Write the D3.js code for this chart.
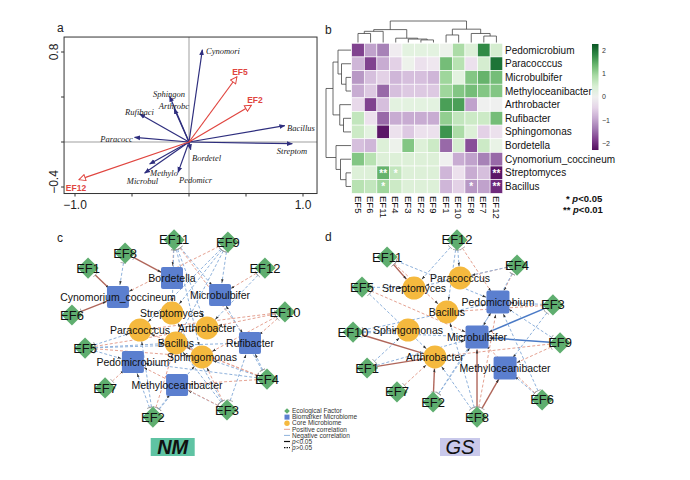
<!DOCTYPE html>
<html><head><meta charset="utf-8">
<script src="https://cdn.jsdelivr.net/npm/d3@7"></script>
<style>body{margin:0;background:#fff} svg{display:block;font-family:Arial, "Liberation Sans", sans-serif}</style>
</head><body>
<svg id="c" width="690" height="480"></svg>
<script>
// ---------------- Panel a: RDA biplot ----------------
const rdaSpecies = ["Cynomori","Sphingon","Arthrobc","Rufibaci","Paracocc","Bordetel","Pedomicr","Methylo","Microbul","Bacillus","Streptom"];
const rdaSpX = [0.117,-0.17,-0.13,-0.433,-0.477,0.015,-0.096,-0.345,-0.389,0.84,0.906];
const rdaSpY = [0.82,0.406,0.296,0.249,0.041,-0.068,-0.27,-0.196,-0.276,0.145,-0.015];
const rdaSpLabX = [0.298,-0.175,-0.132,-0.434,-0.636,0.154,0.057,-0.219,-0.408,0.982,0.904];
const rdaSpLabY = [0.809,0.427,0.32,0.267,0.027,-0.145,-0.335,-0.278,-0.344,0.124,-0.08];
const rdaEF = ["EF5","EF2","EF12"];
const rdaEFX = [0.42,0.547,-0.965];
const rdaEFY = [0.58,0.326,-0.335];
const rdaEFLabX = [0.447,0.579,-0.991];
const rdaEFLabY = [0.622,0.373,-0.406];
const rdaXTicks = [-1,-0.5,0,0.5,1];
const rdaYTicks = [-0.4,0,0.4,0.8];

// ---------------- Panel b: heatmap ----------------
const hmCols = ["EF5","EF6","EF11","EF4","EF3","EF2","EF9","EF1","EF10","EF8","EF7","EF12"];
const hmRows = ["Pedomicrobium","Paracocccus","Microbulbifer","Methyloceanibacter","Arthrobacter","Rufibacter","Sphingomonas","Bordetella","Cynomorium_coccineum","Streptomyces","Bacillus"];
const hmVals = [
 [-1.8,-1.0,-1.3,-0.1, 0.3, 0.3, 0.3, 0.1, 0.9, 0.4, 1.8, 0.5],
 [-0.8,-1.8,-0.9,-0.5, 0.1,-0.3,-0.2, 1.3, 0.8,-0.3, 0.5, 2.0],
 [-1.1,-0.7,-0.5,-0.8,-0.7,-0.7,-0.8, 1.0, 0.3, 1.2, 1.4, 1.3],
 [-0.9,-0.6,-1.5,-0.7,-0.6,-0.6,-0.6, 1.0, 1.2, 1.3, 1.2, 1.2],
 [-0.4,-1.8,-0.7, 0.3, 0.3, 0.3, 0.3, 1.6, 1.6,-1.0, 0.0, 0.0],
 [ 0.7,-0.3,-1.5,-0.9,-0.9,-0.9,-0.9, 1.1, 0.7, 0.6, 0.6, 1.3],
 [ 0.6, 0.3,-2.2,-0.3,-0.6,-0.3,-0.3, 1.7, 0.9, 0.4,-0.5,-0.3],
 [-0.7,-0.8, 0.4, 0.1, 1.2, 0.4, 0.6,-1.5, 0.5,-1.7, 0.6, 0.2],
 [ 1.2, 0.8, 0.4, 0.4, 0.4, 0.4, 0.4, 0.0,-0.9,-1.0,-1.3,-1.5],
 [ 0.4, 0.4, 1.4, 0.7, 0.4, 0.4, 0.4,-0.8,-0.3,-0.9,-0.7,-2.2],
 [ 0.8, 0.7, 1.0, 0.6, 0.4, 0.4, 0.4,-0.8,-0.5,-1.1,-1.0,-2.0]
];
const hmStars = [["Streptomyces","EF11","**"],["Streptomyces","EF4","*"],["Streptomyces","EF12","**"],
                 ["Bacillus","EF11","*"],["Bacillus","EF8","*"],["Bacillus","EF12","**"]];
// dendrograms: [left, right, height]; leaves are indices
const colTree = [[[[0,1,0.42],2,0.52],[3,[4,[5,6,0.12],0.16],0.2],0.6],[[7,8,0.35],[9,[10,11,0.3],0.42],0.62],1.0];
const rowTree = [[[0,[1,[2,3,0.2],0.38],0.52],[4,[5,6,0.3],0.45],0.72],[7,[8,[9,10,0.2],0.42],0.6],1.0];
const cbTicks = [2,1,0,-1,-2];

// ---------------- Panels c, d: networks ----------------
const netCNodes = [
 ["EF11","ef",49.6,2.6],["EF9","ef",73.0,3.7],["EF8","ef",28.3,9.5],["EF1","ef",12.2,17.4],["EF12","ef",89.1,17.4],
 ["EF10","ef",97.8,40.5],["EF6","ef",5.2,42.1],["EF5","ef",10.9,59.5],["EF4","ef",90.0,75.8],["EF7","ef",19.6,80.5],
 ["EF2","ef",40.4,95.8],["EF3","ef",72.6,92.1],
 ["Bordetella","bio",48.7,22.6],["Cynomorium_coccineum","bio",25.2,32.6],["Microbulbifer","bio",69.6,31.6],
 ["Rufibacter","bio",82.6,56.8],["Pedomicrobium","bio",31.7,66.8],["Methyloceanibacter","bio",50.9,78.9],
 ["Streptomyces","core",48.7,41.1],["Paracocccus","core",34.8,50.0],["Arthrobacter","core",63.9,48.9],
 ["Bacillus","core",50.4,56.8],["Sphingomonas","core",61.7,64.2]
];
const netCEdges = [
 ["EF11","Bordetella","pn"],["EF11","Microbulbifer","nn"],["EF11","Streptomyces","nn"],["EF11","Arthrobacter","nn"],["EF11","Rufibacter","pn"],["EF11","Sphingomonas","nn"],
 ["EF9","Microbulbifer","nn"],["EF9","Cynomorium_coccineum","pn"],["EF9","Paracocccus","nn"],["EF9","Bacillus","nn"],["EF9","Streptomyces","nn"],
 ["EF8","Bordetella","ps"],["EF8","Cynomorium_coccineum","nn"],
 ["EF1","Cynomorium_coccineum","ps"],["EF6","Cynomorium_coccineum","ps"],
 ["EF12","Microbulbifer","pn"],["EF12","Arthrobacter","nn"],
 ["EF10","Rufibacter","pn"],["EF10","Arthrobacter","pn"],["EF10","Sphingomonas","pn"],["EF10","Paracocccus","pn"],
 ["EF5","Paracocccus","nn"],["EF5","Rufibacter","nn"],["EF5","Arthrobacter","pn"],["EF5","Pedomicrobium","nn"],["EF5","Bacillus","nn"],["EF5","Sphingomonas","pn"],
 ["EF4","Rufibacter","nn"],["EF4","Sphingomonas","nn"],["EF4","Bacillus","pn"],["EF4","Pedomicrobium","nn"],["EF4","Paracocccus","pn"],["EF4","Microbulbifer","nn"],["EF4","Methyloceanibacter","pn"],
 ["EF7","Pedomicrobium","pn"],
 ["EF2","Pedomicrobium","nn"],["EF2","Methyloceanibacter","nn"],["EF2","Paracocccus","nn"],["EF2","Bacillus","pn"],["EF2","Sphingomonas","nn"],
 ["EF3","Methyloceanibacter","nn"],["EF3","Sphingomonas","pn"],["EF3","Rufibacter","nn"],["EF3","Pedomicrobium","pn"],["EF3","Bacillus","nn"],["EF3","Streptomyces","nn"]
];
const netDNodes = [
 ["EF12","ef",48.7,2.6],["EF11","ef",18.3,11.6],["EF4","ef",74.8,15.8],["EF5","ef",7.4,27.4],["EF3","ef",90.4,36.8],
 ["EF10","ef",3.5,51.1],["EF9","ef",93.5,56.8],["EF1","ef",9.6,70.0],["EF7","ef",22.6,82.6],["EF2","ef",38.3,87.9],
 ["EF8","ef",57.4,95.8],["EF6","ef",85.7,86.8],
 ["Paracocccus","core",50.0,22.6],["Streptomyces","core",30.0,27.9],["Bacillus","core",44.3,40.5],
 ["Sphingomonas","core",27.4,50.0],["Arthrobacter","core",39.1,64.2],
 ["Pedomicrobium","bio",66.5,35.3],["Microbulbifer","bio",57.4,53.7],["Methyloceanibacter","bio",69.6,70.0]
];
const netDEdges = [
 ["EF12","Paracocccus","nn"],["EF12","Streptomyces","nn"],["EF12","Pedomicrobium","pn"],["EF12","Bacillus","nn"],
 ["EF11","Streptomyces","ps"],["EF11","Pedomicrobium","nn"],["EF11","Bacillus","pn"],
 ["EF4","Paracocccus","pn"],["EF4","Pedomicrobium","pn"],["EF4","Microbulbifer","nn"],["EF4","Streptomyces","nn"],
 ["EF5","Streptomyces","nn"],["EF5","Microbulbifer","pn"],["EF5","Arthrobacter","nn"],
 ["EF3","Pedomicrobium","nn"],["EF3","Microbulbifer","ns"],["EF3","Methyloceanibacter","nn"],["EF3","Bacillus","pn"],
 ["EF10","Arthrobacter","ps"],["EF10","Pedomicrobium","nn"],["EF10","Microbulbifer","nn"],["EF10","Sphingomonas","nn"],
 ["EF9","Microbulbifer","ns"],["EF9","Methyloceanibacter","pn"],["EF9","Pedomicrobium","nn"],["EF9","Arthrobacter","pn"],
 ["EF1","Arthrobacter","ps"],["EF1","Microbulbifer","nn"],["EF1","Sphingomonas","nn"],
 ["EF7","Arthrobacter","pn"],
 ["EF2","Arthrobacter","ps"],["EF2","Microbulbifer","nn"],["EF2","Pedomicrobium","nn"],
 ["EF8","Microbulbifer","ps"],["EF8","Methyloceanibacter","ps"],["EF8","Arthrobacter","nn"],["EF8","Pedomicrobium","pn"],["EF8","Bacillus","nn"],
 ["EF6","Methyloceanibacter","nn"],["EF6","Pedomicrobium","nn"],["EF6","Microbulbifer","pn"]
];
const legendItems = [["Ecological Factor","ef"],["Biomarker Microbiome","bio"],["Core Microbiome","core"],
  ["Positive correlation","pos"],["Negative correlation","neg"],["p<0.05","sig"],["p>0.05","nsig"]];
const groupLabels = ["NM","GS"];

// ============ drawing ============
const svg = d3.select("#c");
const defs = svg.append("defs");
function mk(id, path, w, fill, stroke, refX){
  defs.append("marker").attr("id",id).attr("viewBox","0 0 10 10").attr("refX",refX).attr("refY",5)
   .attr("markerWidth",w).attr("markerHeight",w).attr("markerUnits","userSpaceOnUse").attr("orient","auto")
   .append("path").attr("d",path).attr("fill",fill).attr("stroke",stroke).attr("stroke-width",1.2);
}
mk("arrB","M0,1L10,5L0,9z",6,"#2e2e7e","none",9);
mk("arrR","M1,1L9,5L1,9z",8,"#fff","#e0453f",9);
mk("arrS","M0,2L10,5L0,8z",4,"#333","none",10);
mk("tbar","M5,0L5,10",6,"none","#999",5);

// ---- panel a
const ax = d3.scaleLinear().domain([-1,1]).range([75,303]);
const ay = d3.scaleLinear().domain([-0.4,0.8]).range([187,52]);
const ga = svg.append("g");
const bx0=ax(-1.096), bx1=ax(1.123), by0=ay(0.933), by1=ay(-0.458);
ga.append("line").attr("x1",bx0).attr("x2",bx1).attr("y1",ay(0)).attr("y2",ay(0)).attr("stroke","#777").attr("stroke-width",0.7);
ga.append("line").attr("x1",ax(0)).attr("x2",ax(0)).attr("y1",by0).attr("y2",by1).attr("stroke","#777").attr("stroke-width",0.7);
ga.append("rect").attr("x",bx0).attr("y",by0).attr("width",bx1-bx0).attr("height",by1-by0).attr("fill","none").attr("stroke","#333").attr("stroke-width",1);
ga.selectAll(".xt").data(rdaXTicks).join("line").attr("x1",d=>ax(d)).attr("x2",d=>ax(d)).attr("y1",by1).attr("y2",by1+3).attr("stroke","#333");
ga.selectAll(".yt").data(rdaYTicks).join("line").attr("y1",d=>ay(d)).attr("y2",d=>ay(d)).attr("x1",bx0).attr("x2",bx0-3).attr("stroke","#333");
ga.selectAll(".xl").data([-1,1]).join("text").attr("x",d=>ax(d)).attr("y",by1+15).attr("text-anchor","middle").attr("font-size",12).attr("fill","#222").text(d=>d3.format(".1f")(d));
ga.selectAll(".yl").data([-0.4,0.8]).join("text").attr("transform",d=>`translate(${bx0-6},${ay(d)+(d<0?-5:0)}) rotate(-90)`).attr("text-anchor","middle").attr("font-size",12).attr("fill","#222").text(d=>d3.format(".1f")(d));
ga.selectAll(".sp").data(rdaSpecies).join("line").attr("x1",ax(0)).attr("y1",ay(0)).attr("x2",(d,i)=>ax(rdaSpX[i])).attr("y2",(d,i)=>ay(rdaSpY[i]))
  .attr("stroke","#2e2e7e").attr("stroke-width",1.2).attr("marker-end","url(#arrB)");
ga.selectAll(".ef").data(rdaEF).join("line").attr("x1",ax(0)).attr("y1",ay(0)).attr("x2",(d,i)=>ax(rdaEFX[i])).attr("y2",(d,i)=>ay(rdaEFY[i]))
  .attr("stroke","#e0453f").attr("stroke-width",1.2).attr("marker-end","url(#arrR)");
ga.selectAll(".spl").data(rdaSpecies).join("text").attr("x",(d,i)=>ax(rdaSpLabX[i])).attr("y",(d,i)=>ay(rdaSpLabY[i])).attr("dy","0.35em")
  .attr("text-anchor","middle").attr("font-family","'Liberation Serif','DejaVu Serif',serif").attr("font-style","italic").attr("font-size",8.5).attr("fill","#222").text(d=>d);
ga.selectAll(".efl").data(rdaEF).join("text").attr("x",(d,i)=>ax(rdaEFLabX[i])).attr("y",(d,i)=>ay(rdaEFLabY[i])).attr("dy","0.35em")
  .attr("text-anchor","middle").attr("font-weight","bold").attr("font-size",8.5).attr("fill","#e0453f").text(d=>d);
svg.append("text").attr("x",57).attr("y",32).attr("font-size",12).attr("fill","#222").text("a");

// ---- panel b
const hx = d3.scaleBand().domain(hmCols).range([351.7,502.7]);
const hy = d3.scaleBand().domain(hmRows).range([43.3,193.3]);
const hc = d3.scaleSequential(d3.interpolatePRGn).domain([-2.45,2.45]);
const gb = svg.append("g");
// colorbar (drawn first, labels may overlap it as in the original)
const cb = d3.scaleLinear().domain([-2,2]).range([143.5,50.5]);
const grad = defs.append("linearGradient").attr("id","cbg").attr("x1",0).attr("y1",1).attr("x2",0).attr("y2",0);
d3.range(0,1.001,0.1).forEach(t=>grad.append("stop").attr("offset",t).attr("stop-color",hc(-2.28+4.56*t)));
gb.append("rect").attr("x",592).attr("y",cb(2.28)).attr("width",6.5).attr("height",cb(-2.28)-cb(2.28)).attr("fill","url(#cbg)");
gb.selectAll(".cbt").data(cbTicks).join("text").attr("x",602).attr("y",d=>cb(d)).attr("dy","0.35em").attr("font-size",7).attr("fill","#333")
  .text(d=>d<0?"\u2212"+(-d):d);
hmRows.forEach((r,i)=>{
  gb.selectAll(null).data(hmVals[i]).join("rect").attr("x",(d,j)=>hx(hmCols[j])).attr("y",hy(r))
    .attr("width",hx.bandwidth()).attr("height",hy.bandwidth()).attr("fill",d=>hc(d)).attr("stroke","#fff").attr("stroke-width",0.6);
});
gb.selectAll(".st").data(hmStars).join("text").attr("x",d=>hx(d[1])+hx.bandwidth()/2).attr("y",d=>hy(d[0])+hy.bandwidth()/2+4)
  .attr("text-anchor","middle").attr("font-size",10).attr("font-weight","bold").attr("fill","#fff").text(d=>d[2]);
gb.selectAll(".rl").data(hmRows).join("text").attr("x",505).attr("y",d=>hy(d)+hy.bandwidth()/2).attr("dy","0.35em")
  .attr("font-size",10).attr("fill","#111").text(d=>d);
gb.selectAll(".cl").data(hmCols).join("text").attr("transform",d=>`translate(${hx(d)+hx.bandwidth()/2},196) rotate(90)`).attr("dy","0.35em")
  .attr("font-size",9.5).attr("fill","#111").text(d=>d);
// dendrograms
function dendro(node, posOf, hScale, horiz){
  if (typeof node === "number") return {p:posOf(node), h:0};
  const l = dendro(node[0],posOf,hScale,horiz), r = dendro(node[1],posOf,hScale,horiz), h=node[2];
  const segs = [[l.p,hScale(l.h),l.p,hScale(h)],[r.p,hScale(r.h),r.p,hScale(h)],[l.p,hScale(h),r.p,hScale(h)]];
  segs.forEach(s=>{
    const [a,b,c,d] = s;
    gb.append("line").attr("x1",horiz?b:a).attr("y1",horiz?a:b).attr("x2",horiz?d:c).attr("y2",horiz?c:d).attr("stroke","#444").attr("stroke-width",0.8);
  });
  return {p:(l.p+r.p)/2, h:h};
}
dendro(colTree, i=>hx(hmCols[i])+hx.bandwidth()/2, d3.scaleLinear().domain([0,1]).range([42.5,21]), false);
dendro(rowTree, i=>hy(hmRows[i])+hy.bandwidth()/2, d3.scaleLinear().domain([0,1]).range([351,326]), true);
const pt = gb.append("text").attr("x",566).attr("y",202).attr("font-size",9.5).attr("font-weight","bold").attr("fill","#111");
pt.append("tspan").text("* "); pt.append("tspan").attr("font-style","italic").text("p"); pt.append("tspan").text("<0.05");
const pt2 = gb.append("text").attr("x",563).attr("y",213).attr("font-size",9.5).attr("font-weight","bold").attr("fill","#111");
pt2.append("tspan").text("** "); pt2.append("tspan").attr("font-style","italic").text("p"); pt2.append("tspan").text("<0.01");
svg.append("text").attr("x",325).attr("y",34).attr("font-size",12).attr("fill","#222").text("b");

// ---- networks
const edgeStyle = {
  pn:{c:"#e5a292",w:1,da:"3,2"}, nn:{c:"#8fb2dc",w:1,da:"3,2"},
  ps:{c:"#b0665a",w:1.4,da:null}, ns:{c:"#4a7ac6",w:1.5,da:null}
};
function network(nodes, edges, xr, yr, sq){
  const g = svg.append("g");
  const sx = d3.scaleLinear().domain([0,100]).range(xr);
  const sy = d3.scaleLinear().domain([0,100]).range(yr);
  const pos = {};
  nodes.forEach(n=>pos[n[0]] = {x:sx(n[2]), y:sy(n[3]), t:n[1]});
  const rad = t=> t==="ef"?10 : (t==="core"?11.5:sq/2+1);
  g.selectAll(".e").data(edges).join("line")
    .each(function(e){
      const a=pos[e[0]], b=pos[e[1]]; const dx=b.x-a.x, dy=b.y-a.y, L=Math.hypot(dx,dy);
      const ra=rad(a.t), rb=rad(b.t);
      d3.select(this).attr("x1",a.x+dx/L*ra).attr("y1",a.y+dy/L*ra).attr("x2",b.x-dx/L*rb).attr("y2",b.y-dy/L*rb);
    })
    .attr("stroke",e=>edgeStyle[e[2]].c).attr("stroke-width",e=>edgeStyle[e[2]].w)
    .attr("stroke-dasharray",e=>edgeStyle[e[2]].da).attr("marker-end","url(#arrS)").attr("marker-start","url(#tbar)");
  const ef = nodes.filter(n=>n[1]==="ef"), bio = nodes.filter(n=>n[1]==="bio"), core = nodes.filter(n=>n[1]==="core");
  g.selectAll(".sq").data(bio).join("rect").attr("x",n=>sx(n[2])-sq/2).attr("y",n=>sy(n[3])-sq/2).attr("width",sq).attr("height",sq)
    .attr("rx",2).attr("fill","#5b7fcf");
  g.selectAll(".ci").data(core).join("circle").attr("cx",n=>sx(n[2])).attr("cy",n=>sy(n[3])).attr("r",11.5).attr("fill","#f5b93e");
  g.selectAll(".di").data(ef).join("rect").attr("x",-7.5).attr("y",-7.5).attr("width",15).attr("height",15)
    .attr("transform",n=>`translate(${sx(n[2])},${sy(n[3])}) rotate(45)`).attr("fill","#5fae6f");
  g.selectAll(".efl").data(ef).join("text").attr("x",n=>sx(n[2])).attr("y",n=>sy(n[3])).attr("dy","0.35em").attr("text-anchor","middle")
    .attr("font-size",13).attr("fill","#111").text(n=>n[0]);
  g.selectAll(".nl").data(bio.concat(core)).join("text").attr("x",n=>sx(n[2])).attr("y",n=>sy(n[3])).attr("dy","0.35em").attr("text-anchor","middle")
    .attr("font-size",10.5).attr("fill","#111").text(n=>n[0]);
}
network(netCNodes, netCEdges, [60,290], [235,425], 22);
network(netDNodes, netDEdges, [345,575], [235,425], 23);
svg.append("text").attr("x",57).attr("y",242).attr("font-size",12).attr("fill","#222").text("c");
svg.append("text").attr("x",325).attr("y",241).attr("font-size",12).attr("fill","#222").text("d");

// ---- legend
const gl = svg.append("g");
const ly = i => 411 + i*6.1;
legendItems.forEach((it,i)=>{
  const y = ly(i), k = it[1];
  if (k==="ef") gl.append("rect").attr("x",-2).attr("y",-2).attr("width",4).attr("height",4).attr("transform",`translate(287,${y}) rotate(45)`).attr("fill","#5fae6f");
  if (k==="bio") gl.append("rect").attr("x",284.5).attr("y",y-2.5).attr("width",5).attr("height",5).attr("fill","#5b7fcf");
  if (k==="core") gl.append("circle").attr("cx",287).attr("cy",y).attr("r",2.7).attr("fill","#f5b93e");
  if (k==="pos"||k==="neg"||k==="sig"||k==="nsig"){
    gl.append("line").attr("x1",284).attr("x2",290).attr("y1",y).attr("y2",y)
      .attr("stroke",k==="pos"?"#e5a292":k==="neg"?"#8fb2dc":"#111").attr("stroke-width",k==="sig"||k==="nsig"?1.2:1)
      .attr("stroke-dasharray",k==="nsig"?"1.5,1":null);
  }
  const t = gl.append("text").attr("x",292).attr("y",y).attr("dy","0.35em").attr("font-size",6.5).attr("fill","#333");
  if (k==="sig"||k==="nsig"){ t.append("tspan").attr("font-style","italic").text("p"); t.append("tspan").text(it[0].slice(1)); }
  else t.text(it[0]);
});

// ---- group labels
const gbox = [[150.7,"#5fc3a3","bold"],[440,"#c9c9eb","normal"]];
groupLabels.forEach((lab,i)=>{
  const [x0,fill,fw] = gbox[i]; const w = i===0?44:40;
  svg.append("rect").attr("x",x0).attr("y",438).attr("width",w).attr("height",18).attr("fill",fill);
  svg.append("text").attr("x",x0+w/2).attr("y",447).attr("dy","0.36em").attr("text-anchor","middle")
    .attr("font-size",20).attr("font-style","italic").attr("font-weight",fw).attr("fill","#111").text(lab);
});
</script>
</body></html>
